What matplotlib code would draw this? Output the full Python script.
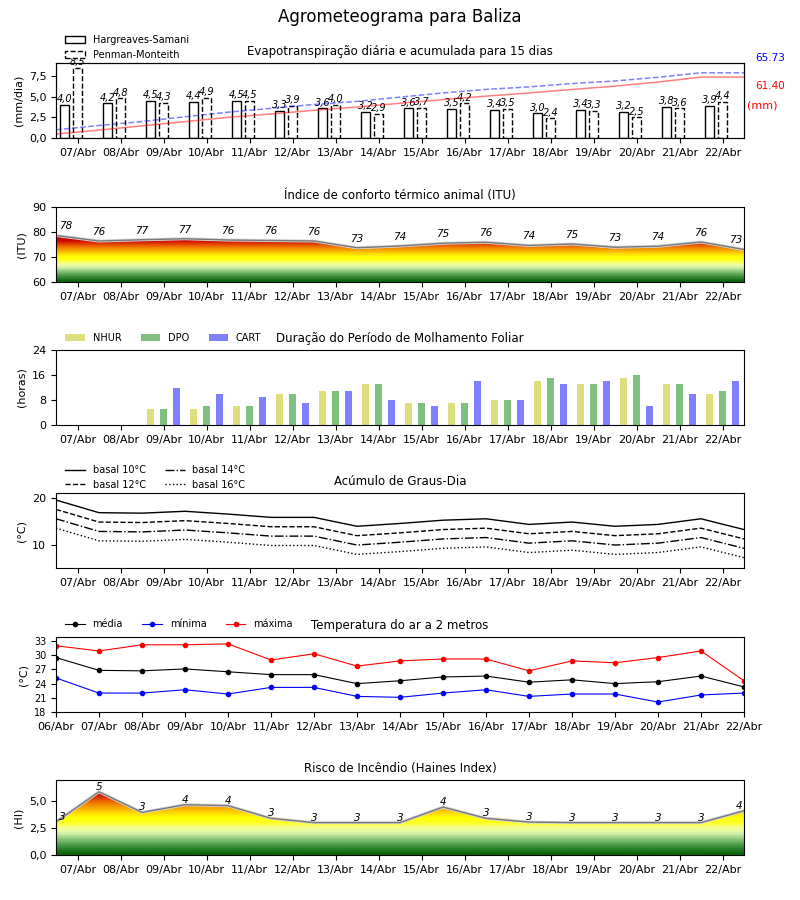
# ============================================
# AGROMETEOGRAMA — BALIZA
# six stacked panels, 15-day forecast
# ============================================

import numpy as np
import matplotlib
matplotlib.use('Agg')
import matplotlib.pyplot as plt
import matplotlib.ticker as mticker
import matplotlib.patheffects as pe
from matplotlib.colors import LinearSegmentedColormap
from matplotlib.patches import Polygon

plt.rcParams['font.family'] = ['DejaVu Sans']
plt.rcParams['font.size'] = 8

# ─────────────────────────────────────────────
# DATA
# ─────────────────────────────────────────────
dias = ['07/Abr', '08/Abr', '09/Abr', '10/Abr', '11/Abr', '12/Abr',
        '13/Abr', '14/Abr', '15/Abr', '16/Abr', '17/Abr', '18/Abr',
        '19/Abr', '20/Abr', '21/Abr', '22/Abr']
datas = ['06/Abr'] + dias

# evapotranspiração (mm/dia) e acumulada (mm)
et_hs = [4.0, 4.2, 4.5, 4.4, 4.5, 3.3, 3.6, 3.2,
         3.6, 3.5, 3.4, 3.0, 3.4, 3.2, 3.8, 3.9]
et_pm = [8.5, 4.8, 4.3, 4.9, 4.5, 3.9, 4.0, 2.9,
         3.7, 4.2, 3.5, 2.4, 3.3, 2.5, 3.6, 4.4]
et_hs_acum = [4.0, 8.0, 12.2, 16.5, 20.8, 24.2, 27.9, 31.3, 35.0,
              38.7, 42.2, 45.4, 48.9, 52.3, 56.4, 61.40, 61.40]
et_pm_acum = [8.3, 12.6, 16.6, 21.4, 26.0, 29.9, 33.8, 36.9, 41.2,
              45.4, 49.0, 51.5, 54.9, 57.5, 61.2, 65.73, 65.73]

# ITU
itu = [78.6, 76.4, 76.9, 77.3, 76.8, 76.6, 76.4, 73.7, 74.4,
       75.5, 75.9, 74.6, 75.2, 73.9, 74.3, 76.0, 73.0]
itu_rot = [78, 76, 77, 77, 76, 76, 76, 73, 74,
           75, 76, 74, 75, 73, 74, 76, 73]

# molhamento foliar (horas)
nhur = [0, 0, 5, 5, 6, 10, 11, 13, 7, 7, 8, 14, 13, 15, 13, 10]
dpo = [0, 0, 5, 6, 6, 10, 11, 13, 7, 7, 8, 15, 13, 16, 13, 11]
cart = [0, 0, 12, 10, 9, 7, 11, 8, 6, 14, 8, 13, 14, 6, 10, 14]

# graus-dia
gd10 = [19.6, 16.9, 16.8, 17.2, 16.6, 15.9, 15.9, 14.0, 14.6,
        15.3, 15.6, 14.4, 14.9, 14.0, 14.4, 15.6, 13.3]
gd12 = [17.6, 14.9, 14.8, 15.2, 14.6, 13.9, 13.9, 12.0, 12.6,
        13.3, 13.6, 12.4, 12.9, 12.0, 12.4, 13.6, 11.3]
gd14 = [15.6, 12.9, 12.8, 13.2, 12.6, 11.9, 11.9, 10.0, 10.6,
        11.3, 11.6, 10.4, 10.9, 10.0, 10.4, 11.6, 9.3]
gd16 = [13.6, 10.9, 10.8, 11.2, 10.6, 9.9, 9.9, 8.0, 8.6,
        9.3, 9.6, 8.4, 8.9, 8.0, 8.4, 9.6, 7.3]

# temperatura do ar (°C)
t_med = [29.5, 26.8, 26.7, 27.1, 26.5, 25.9, 25.9, 24.0, 24.6,
         25.4, 25.6, 24.3, 24.8, 24.0, 24.4, 25.6, 23.3]
t_min = [25.2, 22.0, 22.0, 22.7, 21.8, 23.2, 23.2, 21.3, 21.1,
         22.0, 22.7, 21.3, 21.8, 21.8, 20.1, 21.6, 22.0]
t_max = [32.0, 30.9, 32.2, 32.2, 32.4, 29.0, 30.3, 27.7, 28.8,
         29.2, 29.2, 26.7, 28.8, 28.4, 29.5, 30.9, 24.6]

# Haines
haines = [3.07, 5.86, 3.95, 4.66, 4.57, 3.4, 3.0, 3.0, 3.0,
          4.44, 3.4, 3.05, 3.0, 3.0, 3.0, 3.0, 4.1]
haines_rot = [3, 5, 3, 4, 4, 3, 3, 3, 3, 4, 3, 3, 3, 3, 3, 3, 4]

# ─────────────────────────────────────────────
# SETUP
# ─────────────────────────────────────────────
xt = np.arange(len(datas))          # 0..16
xd = np.arange(len(dias)) + 0.5     # day centres

cmap_risco = LinearSegmentedColormap.from_list('risco', [
    (0.00, '#0b650b'), (0.12, '#3d8f3d'), (0.25, '#90cc80'),
    (0.35, '#e0f8b0'), (0.43, '#f5ff90'), (0.50, '#ffff20'),
    (0.60, '#ffff00'), (0.68, '#ffd000'), (0.76, '#f5a000'),
    (0.84, '#ee7000'), (0.92, '#dd3000'), (1.00, '#c80000')], N=28)

virgula = mticker.FuncFormatter(
    lambda v, p: f'{v:.1f}'.replace('.', ','))


def eixo_dias(ax):
    ax.set_xlim(0, 16)
    ax.set_xticks(xd)
    ax.set_xticklabels(dias)


def area_gradiente(ax, y, base, cmax):
    x = xt
    verts = np.column_stack([np.r_[x, x[::-1]],
                             np.r_[y, np.full(len(x), base)]])
    clip = Polygon(verts, closed=True, facecolor='none',
                   edgecolor='none')
    ax.add_patch(clip)
    grad = np.linspace(base, max(y), 256).reshape(-1, 1)
    im = ax.imshow(grad, extent=[x[0], x[-1], base, max(y)],
                   origin='lower', aspect='auto', cmap=cmap_risco,
                   vmin=base, vmax=cmax)
    im.set_clip_path(clip)
    ax.plot(x, y, color='#787878', lw=1.0,
            path_effects=[pe.Stroke(linewidth=2.2, foreground='#d8d8d8'),
                          pe.Normal()])


def rotulos(ax, y, txt, dy):
    n = len(txt)
    for i in range(n):
        ha = 'center'
        dx = 0
        if i == 0:
            ha, dx = 'left', 2
        elif i == n - 1:
            ha, dx = 'right', -1
        ax.annotate(str(txt[i]), xy=(xt[i], y[i]), xytext=(dx, dy),
                    textcoords='offset points', ha=ha, va='bottom',
                    fontsize=7.5, style='italic')


fig = plt.figure(figsize=(8, 9), dpi=100)
fig.text(0.5, 1 - 17 / 900, 'Agrometeograma para Baliza',
         fontsize=12, ha='center', va='center')

L, W, H = 0.07, 0.86, 75 / 900
tops = [63, 207, 350, 493, 637, 780]
axs = [fig.add_axes([L, 1 - (t + 75) / 900, W, H]) for t in tops]

# ─────────────────────────────────────────────
# PANEL 1: EVAPOTRANSPIRAÇÃO
# ─────────────────────────────────────────────
ax = axs[0]
b1 = ax.bar(xd - 0.3, et_hs, width=0.22, facecolor='white',
            edgecolor='black', lw=1.0, label='Hargreaves-Samani')
b2 = ax.bar(xd, et_pm, width=0.22, facecolor='white',
            edgecolor='black', lw=1.0, ls='--', label='Penman-Monteith')
for bars, vals in ((b1, et_hs), (b2, et_pm)):
    for bar, v in zip(bars, vals):
        ax.annotate(f'{v:.1f}'.replace('.', ','),
                    xy=(bar.get_x() + bar.get_width() / 2, v),
                    xytext=(0, 0.5), textcoords='offset points',
                    ha='center', va='bottom', fontsize=7,
                    style='italic')
eixo_dias(ax)
ax.set_ylim(0, 9.1)
ax.set_yticks([0, 2.5, 5, 7.5])
ax.yaxis.set_major_formatter(virgula)
ax.set_ylabel('(mm/dia)')
ax.set_title('Evapotranspiração diária e acumulada para 15 dias',
             fontsize=8.5)
ax.legend(loc='lower left', bbox_to_anchor=(0.008, 0.99),
          borderaxespad=0, frameon=False, fontsize=7)

axb = ax.twinx()
axb.plot(xt, et_hs_acum, color='r', alpha=0.5, lw=1.1)
axb.plot(xt, et_pm_acum, color='b', alpha=0.5, lw=1.1, ls='--')
axb.set_xlim(0, 16)
axb.set_ylim(0, 75.6)
axb.set_yticks([])
ax.text(1.016, 1.067, f'{et_pm_acum[-1]:.2f}', transform=ax.transAxes,
        color='b', fontsize=7.5, va='center', ha='left')
ax.text(1.016, 0.693, f'{et_hs_acum[-1]:.2f}', transform=ax.transAxes,
        color='r', fontsize=7.5, va='center', ha='left')
ax.text(1.004, 0.44, '(mm)', transform=ax.transAxes,
        color='r', fontsize=8, va='center', ha='left')

# ─────────────────────────────────────────────
# PANEL 2: ITU
# ─────────────────────────────────────────────
ax = axs[1]
area_gradiente(ax, itu, 60, 77)
rotulos(ax, itu, itu_rot, 3)
eixo_dias(ax)
ax.set_ylim(60, 90)
ax.set_yticks([60, 70, 80, 90])
ax.set_ylabel('(ITU)')
ax.set_title('Índice de conforto térmico animal (ITU)', fontsize=8.5)

# ─────────────────────────────────────────────
# PANEL 3: MOLHAMENTO FOLIAR
# ─────────────────────────────────────────────
ax = axs[2]
ax.bar(xd - 0.3, nhur, width=0.16, color='y', alpha=0.5, label='NHUR')
ax.bar(xd, dpo, width=0.16, color='g', alpha=0.5, label='DPO')
ax.bar(xd + 0.3, cart, width=0.16, color='b', alpha=0.5, label='CART')
eixo_dias(ax)
ax.set_ylim(0, 24)
ax.set_yticks([0, 8, 16, 24])
ax.set_ylabel('(horas)')
ax.set_title('Duração do Período de Molhamento Foliar', fontsize=8.5)
ax.legend(loc='lower left', bbox_to_anchor=(0.008, 1.04), ncol=3,
          borderaxespad=0, frameon=False, fontsize=7)

# ─────────────────────────────────────────────
# PANEL 4: GRAUS-DIA
# ─────────────────────────────────────────────
ax = axs[3]
ax.plot(xt, gd10, color='k', ls='-', lw=1.0, label='basal 10°C')
ax.plot(xt, gd12, color='k', ls='--', lw=1.0, label='basal 12°C')
ax.plot(xt, gd14, color='k', ls='-.', lw=1.0, label='basal 14°C')
ax.plot(xt, gd16, color='k', ls=':', lw=1.0, label='basal 16°C')
eixo_dias(ax)
ax.set_ylim(5.1, 21.1)
ax.set_yticks([10, 20])
ax.set_ylabel('(°C)')
ax.set_title('Acúmulo de Graus-Dia', fontsize=8.5)
ax.legend(loc='lower left', bbox_to_anchor=(0.008, 0.99), ncol=2,
          borderaxespad=0, frameon=False, fontsize=7)

# ─────────────────────────────────────────────
# PANEL 5: TEMPERATURA
# ─────────────────────────────────────────────
ax = axs[4]
ax.plot(xt, t_med, color='k', lw=0.8, marker='o', ms=3, label='média')
ax.plot(xt, t_min, color='b', lw=0.8, marker='o', ms=3, label='mínima')
ax.plot(xt, t_max, color='r', lw=0.8, marker='o', ms=3, label='máxima')
ax.set_xlim(0, 16)
ax.set_xticks(xt)
ax.set_xticklabels(datas)
ax.set_ylim(18, 33.85)
ax.set_yticks([18, 21, 24, 27, 30, 33])
ax.tick_params(axis='y', labelsize=7)
ax.set_ylabel('(°C)')
ax.set_title('Temperatura do ar a 2 metros', fontsize=8.5)
ax.legend(loc='lower left', bbox_to_anchor=(0.008, 1.05), ncol=3,
          borderaxespad=0, frameon=False, fontsize=7)

# ─────────────────────────────────────────────
# PANEL 6: HAINES
# ─────────────────────────────────────────────
ax = axs[5]
area_gradiente(ax, haines, 0, max(haines))
rotulos(ax, haines, haines_rot, 0)
eixo_dias(ax)
ax.set_ylim(0, 6.95)
ax.set_yticks([0, 2.5, 5])
ax.yaxis.set_major_formatter(virgula)
ax.set_ylabel('(HI)')
ax.set_title('Risco de Incêndio (Haines Index)', fontsize=8.5)

plt.savefig('out.png', dpi=100)
plt.close()
print('✅ Saved: out.png')
